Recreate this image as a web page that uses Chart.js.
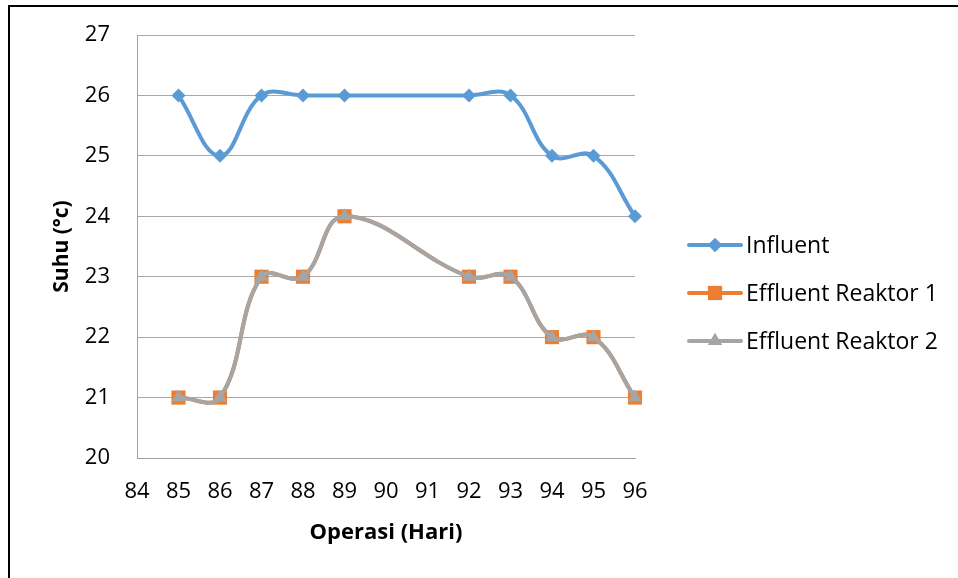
<!DOCTYPE html>
<html>
<head>
<meta charset="utf-8">
<script src="https://cdn.jsdelivr.net/npm/chart.js@4"></script>
<style>
  body { margin: 0; background: #fff; }
  #wrap { position: relative; width: 958px; height: 578px; overflow: hidden; }
  #frame { position: absolute; left: 8px; top: 5px; width: 1000px; height: 600px;
           border-left: 2px solid #000; border-top: 2px solid #000; pointer-events: none; }
</style>
</head>
<body>
<div id="wrap">
  <canvas id="myChart" width="958" height="578"></canvas>
  <div id="frame"></div>
</div>
<script>
let days = [85, 86, 87, 88, 89, 92, 93, 94, 95, 96];
let influent = [26, 25, 26, 26, 26, 26, 26, 25, 25, 24];
let effluentOne = [21, 21, 23, 23, 24, 23, 23, 22, 22, 21];
let effluentTwo = [21, 21, 23, 23, 24, 23, 23, 22, 22, 21];
let seriesNames = ['Influent', 'Effluent Reaktor 1', 'Effluent Reaktor 2'];

const font = 'Open Sans';

function toPoints(values) {
  return days.map((d, i) => ({ x: d, y: values[i] }));
}

// legend drawn by hand so it shows the line with its marker, like Excel
const sideLegend = {
  id: 'sideLegend',
  afterDraw(chart) {
    const ctx = chart.ctx;
    const rows = [245, 293, 341];
    chart.data.datasets.forEach((ds, i) => {
      const y = rows[i];
      ctx.save();
      ctx.strokeStyle = ds.borderColor;
      ctx.lineWidth = 4;
      ctx.lineCap = 'round';
      ctx.beginPath();
      ctx.moveTo(689, y);
      ctx.lineTo(741, y);
      ctx.stroke();
      Chart.helpers.drawPoint(ctx, {
        pointStyle: ds.pointStyle,
        radius: ds.pointRadius,
        borderWidth: 0,
        rotation: 0
      }, 715, y);
      ctx.fillStyle = ds.pointBackgroundColor;
      ctx.fill();
      ctx.fillStyle = '#000';
      ctx.font = '23px "' + font + '"';
      ctx.textBaseline = 'middle';
      ctx.fillText(ds.label, 746, y + 1);
      ctx.restore();
    });
  }
};

const data = {
  datasets: [{
    label: seriesNames[0],
    data: toPoints(influent),
    borderColor: '#5B9BD5',
    backgroundColor: '#5B9BD5',
    pointBackgroundColor: '#5B9BD5',
    pointStyle: 'rectRot',
    pointRadius: 7,
    order: 0
  }, {
    label: seriesNames[1],
    data: toPoints(effluentOne),
    borderColor: '#ED7D31',
    backgroundColor: '#ED7D31',
    pointBackgroundColor: '#ED7D31',
    pointStyle: 'rect',
    pointRadius: 10,
    order: 2
  }, {
    label: seriesNames[2],
    data: toPoints(effluentTwo),
    borderColor: '#A5A5A5',
    backgroundColor: '#A5A5A5',
    pointBackgroundColor: '#A5A5A5',
    pointStyle: 'triangle',
    pointRadius: 8,
    order: 1
  }]
};

const config = {
  type: 'line',
  data: data,
  options: {
    responsive: false,
    animation: false,
    devicePixelRatio: 1,
    layout: { padding: { left: 0, right: 323, top: 35, bottom: 0 } },
    elements: {
      line: { borderWidth: 4, tension: 0.4 },
      point: { borderWidth: 0, hoverRadius: 8 }
    },
    datasets: { line: { clip: false } },
    plugins: { legend: { display: false }, tooltip: { enabled: false } },
    scales: {
      x: {
        type: 'linear',
        min: 84,
        max: 96,
        afterFit(scale) { scale.height = 120; },
        ticks: { stepSize: 1, padding: 21, color: '#000', font: { family: font, size: 22 } },
        grid: { display: false, drawTicks: false },
        border: { color: '#A0A0A0', width: 1 },
        title: {
          display: true,
          text: 'Operasi (Hari)',
          color: '#000',
          font: { family: font, size: 22, weight: 'bold' },
          padding: { top: 0, bottom: 32 }
        }
      },
      y: {
        min: 20,
        max: 27,
        afterFit(scale) {
          scale.width = 137;
          // tick padding would otherwise push the plot top down
          scale.paddingTop = 14;
          scale.paddingBottom = 14;
        },
        ticks: { stepSize: 1, padding: 27, color: '#000', font: { family: font, size: 22 } },
        grid: { color: '#A8A8A8', lineWidth: 1, drawTicks: false },
        border: { color: '#A0A0A0', width: 1 },
        title: {
          display: true,
          text: 'Suhu (°c)',
          color: '#000',
          font: { family: font, size: 21, weight: 'bold' },
          padding: { top: 49, bottom: 0 }
        }
      }
    }
  },
  plugins: [sideLegend]
};

const myChart = new Chart(document.getElementById('myChart'), config);
</script>
</body>
</html>
